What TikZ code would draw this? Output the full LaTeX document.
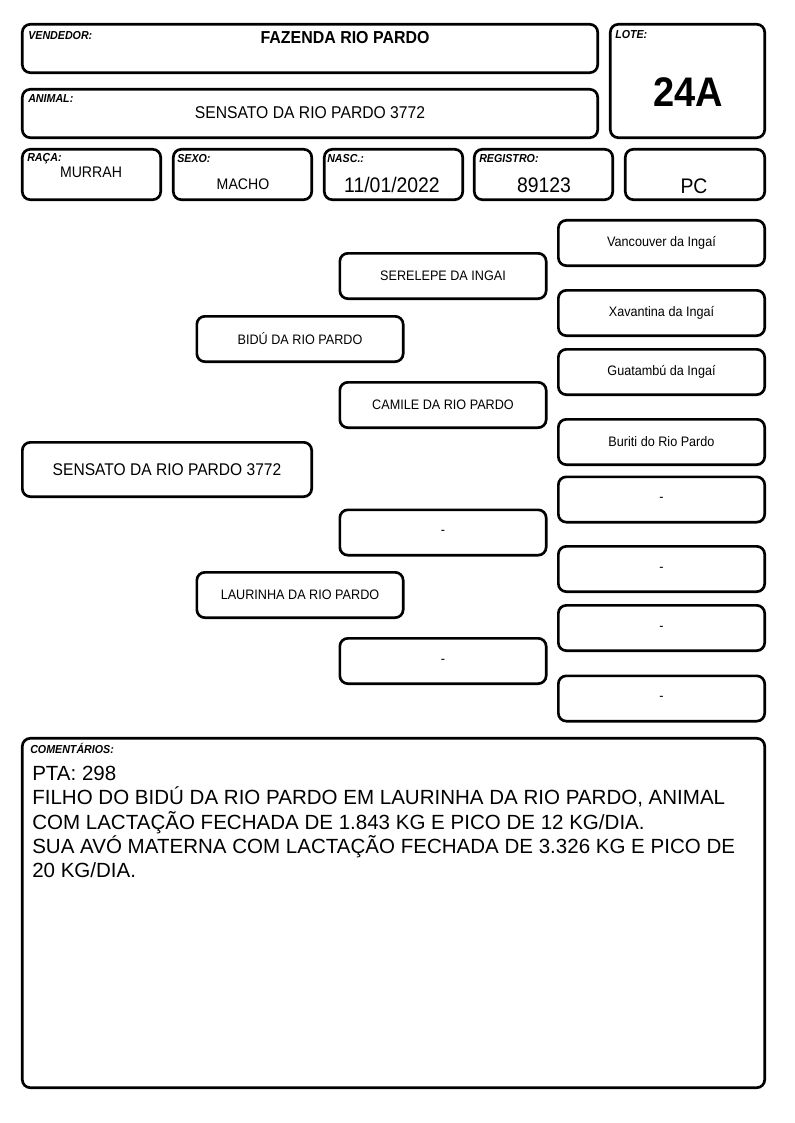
\documentclass[tikz,border=0pt]{standalone}
\usepackage{fontspec}
\setmainfont[FakeStretch=0.92]{Liberation Sans}
\newfontfamily\comentfont{Liberation Sans}

\begin{document}
\begin{tikzpicture}[x=0.75pt,y=0.75pt,yscale=-1,xscale=1,
	caixa/.style={line width=2pt,rounded corners=6pt},
	rotulo/.style={anchor=base west,inner sep=0pt,font=\bfseries\itshape\fontsize{8.7}{10}\selectfont},
	valor/.style={anchor=base,inner sep=0pt},
	ped/.style={draw,line width=2pt,rounded corners=6pt,minimum width=154.75pt,minimum height=34pt,inner sep=0pt,font=\fontsize{10.3}{12}\selectfont}]
	\useasboundingbox (0,0) rectangle (794,1123);
	% cabecalho
	\draw [caixa] (22.3,24.3) rectangle (597.7,72.7) ;
	\draw [caixa] (610.3,24.3) rectangle (764.7,137.7) ;
	\draw [caixa] (22.3,89.3) rectangle (597.7,137.7) ;
	\draw [caixa] (22.3,149.3) rectangle (160.7,199.7) ;
	\draw [caixa] (173.3,149.3) rectangle (311.7,199.7) ;
	\draw [caixa] (324.3,149.3) rectangle (462.7,199.7) ;
	\draw [caixa] (474.3,149.3) rectangle (612.7,199.7) ;
	\draw [caixa] (625.3,149.3) rectangle (764.7,199.7) ;
	\node [rotulo] (lvendedor) at (28,40) {VENDEDOR:};
	\node [rotulo] (llote) at (615,39) {LOTE:};
	\node [rotulo] (lanimal) at (28,103) {ANIMAL:};
	\node [rotulo] (lraca) at (27,162) {RAÇA:};
	\node [rotulo] (lsexo) at (177,163) {SEXO:};
	\node [rotulo] (lnasc) at (327,163) {NASC.:};
	\node [rotulo] (lregistro) at (479,163) {REGISTRO:};
	\node [valor,font=\bfseries\fontsize{13}{15}\selectfont] (vendedor) at (345,44) {FAZENDA RIO PARDO};
	\node [valor,font=\bfseries\fontsize{31}{33}\selectfont] (lote) at (688,107) {24A};
	\node [valor,font=\fontsize{12.8}{15}\selectfont] (animal) at (310,119) {SENSATO DA RIO PARDO 3772};
	\node [valor,font=\fontsize{11.5}{13}\selectfont] (raca) at (91,178) {MURRAH};
	\node [valor,font=\fontsize{11.5}{13}\selectfont] (sexo) at (243,190) {MACHO};
	\node [valor,font=\fontsize{15.8}{18}\selectfont] (nasc) at (392,193) {11/01/2022};
	\node [valor,font=\fontsize{15.8}{18}\selectfont] (registro) at (544,193) {89123};
	\node [valor,font=\fontsize{15.8}{18}\selectfont] (pc) at (694,194) {PC};
	% genealogia
	\node [ped,minimum width=217pt,minimum height=40.75pt,font=\fontsize{12.7}{15}\selectfont] (sensato) at (167,469.5) {SENSATO DA RIO PARDO 3772};
	\node [ped] (bidu) at (300,339) {BIDÚ DA RIO PARDO};
	\node [ped] (laurinha) at (300,595) {LAURINHA DA RIO PARDO};
	\node [ped] (serelepe) at (443,276) {SERELEPE DA INGAI};
	\node [ped] (camile) at (443,405) {CAMILE DA RIO PARDO};
	\node [ped] (pai3) at (443,532.5) {-};
	\node [ped] (mae3) at (443,661) {-};
	\node [ped] (vancouver) at (661.5,243) {Vancouver da Ingaí};
	\node [ped] (xavantina) at (661.5,313) {Xavantina da Ingaí};
	\node [ped] (guatambu) at (661.5,372) {Guatambú da Ingaí};
	\node [ped] (buriti) at (661.5,442) {Buriti do Rio Pardo};
	\node [ped] (avo5) at (661.5,499.5) {-};
	\node [ped] (avo6) at (661.5,569) {-};
	\node [ped] (avo7) at (661.5,628) {-};
	\node [ped] (avo8) at (661.5,698.5) {-};
	% comentarios
	\draw [caixa] (22.3,738.3) rectangle (764.7,1087.7) ;
	\node [rotulo] (lcomentarios) at (30,753) {COMENTÁRIOS:};
	\node [anchor=north west,inner sep=0pt,align=left,font=\comentfont\fontsize{15.4}{18.2}\selectfont] (comentarios) at (32,766) {PTA: 298\\FILHO DO BIDÚ DA RIO PARDO EM LAURINHA DA RIO PARDO, ANIMAL\\COM LACTAÇÃO FECHADA DE 1.843 KG E PICO DE 12 KG/DIA.\\SUA AVÓ MATERNA COM LACTAÇÃO FECHADA DE 3.326 KG E PICO DE\\20 KG/DIA.};
\end{tikzpicture}
\end{document}
